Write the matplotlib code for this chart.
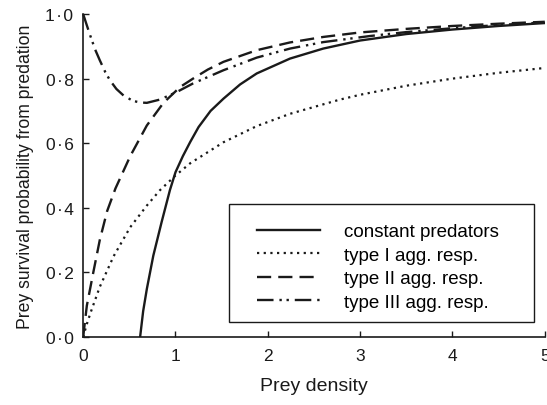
import numpy as np
import matplotlib
matplotlib.use("Agg")
import matplotlib.pyplot as plt
from matplotlib.patches import Rectangle
from matplotlib.ticker import FuncFormatter

plt.rcParams['font.family'] = ['Liberation Sans', 'DejaVu Sans']

# values
x_const = [0.617, 0.65, 0.69, 0.76, 0.85, 0.94, 1.0, 1.08, 1.16, 1.25, 1.38, 1.52, 1.7, 1.88, 2.24, 2.6, 3.0, 3.5, 4.0, 4.5, 5.0]
y_const = [0.0, 0.08, 0.149, 0.252, 0.356, 0.455, 0.51, 0.56, 0.604, 0.65, 0.70, 0.738, 0.782, 0.816, 0.862, 0.893, 0.918, 0.938, 0.952, 0.963, 0.972]

x_type1 = [0.0, 0.04, 0.08, 0.18, 0.33, 0.51, 0.69, 0.83, 1.0, 1.16, 1.52, 1.88, 2.24, 2.78, 3.0, 3.5, 4.0, 4.5, 5.0]
y_type1 = [0.0, 0.04, 0.075, 0.155, 0.25, 0.34, 0.407, 0.454, 0.50, 0.538, 0.603, 0.653, 0.691, 0.735, 0.75, 0.778, 0.80, 0.818, 0.833]

x_type2 = [0.0, 0.04, 0.11, 0.18, 0.26, 0.35, 0.51, 0.69, 0.87, 1.05, 1.19, 1.35, 1.52, 1.88, 2.24, 2.6, 3.0, 3.5, 4.0, 4.5, 5.0]
y_type2 = [0.0, 0.097, 0.20, 0.30, 0.39, 0.46, 0.56, 0.655, 0.725, 0.774, 0.80, 0.828, 0.852, 0.888, 0.912, 0.929, 0.943, 0.954, 0.963, 0.97, 0.976]

x_type3 = [0.0, 0.04, 0.076, 0.13, 0.18, 0.24, 0.29, 0.36, 0.44, 0.54, 0.62, 0.69, 0.83, 1.01, 1.19, 1.52, 1.88, 2.24, 2.6, 3.11, 3.5, 4.0, 4.5, 5.0]
y_type3 = [1.0, 0.965, 0.934, 0.89, 0.857, 0.82, 0.795, 0.768, 0.747, 0.731, 0.726, 0.725, 0.735, 0.758, 0.785, 0.826, 0.865, 0.893, 0.913, 0.932, 0.944, 0.956, 0.966, 0.974]

labels = ["constant predators", "type I agg. resp.", "type II agg. resp.", "type III agg. resp."]

fig = plt.figure(figsize=(5.47, 4.06), dpi=100)
ax = fig.add_axes([0.152, 0.1675, 0.844, 0.7955])

col = "#1a1a1a"
ax.plot(x_const, y_const, color=col, lw=1.7, linestyle="-", label=labels[0])
ax.plot(x_type1, y_type1, color=col, lw=1.6, linestyle=(0, (1, 2)), label=labels[1])
ax.plot(x_type2, y_type2, color=col, lw=1.7, linestyle=(0, (6, 3)), label=labels[2])
ax.plot(x_type3, y_type3, color=col, lw=1.7, linestyle=(0, (7, 2.5, 1, 2, 1, 2.5)),
        label=labels[3], clip_on=False)

ax.set_xlim(0, 5)
ax.set_ylim(0, 1)
ax.set_xticks([0, 1, 2, 3, 4, 5])
ax.set_yticks([0, 0.2, 0.4, 0.6, 0.8, 1.0])
ax.yaxis.set_major_formatter(FuncFormatter(lambda v, p: f"{v:.1f}".replace(".", "\u200a\u00b7\u200a")))

for s in ["top", "right"]:
    ax.spines[s].set_visible(False)
for s in ["left", "bottom"]:
    ax.spines[s].set_linewidth(1.2)
    ax.spines[s].set_color(col)

ax.tick_params(direction="in", length=4, width=1.0, labelsize=12.5, colors=col)
ax.tick_params(axis="x", pad=8)
ax.tick_params(axis="y", pad=7)
ax.set_xlabel("Prey density", fontsize=14, color=col, labelpad=10)
ax.set_ylabel("Prey survival probability from predation", fontsize=12.7, color=col, labelpad=8)

# legend entries without frame, box drawn separately (wider padding than legend allows)
leg = ax.legend(loc="upper left", bbox_to_anchor=(0.377, 0.352), frameon=False,
                fontsize=13.5, handlelength=3.35, borderpad=0, labelspacing=0.34,
                handletextpad=1.3, borderaxespad=0)
ax.add_patch(Rectangle((0.316, 0.046), 0.66, 0.365, transform=ax.transAxes,
                       fill=False, edgecolor=col, lw=1.0, zorder=5))

fig.savefig("out.png", dpi=100)
